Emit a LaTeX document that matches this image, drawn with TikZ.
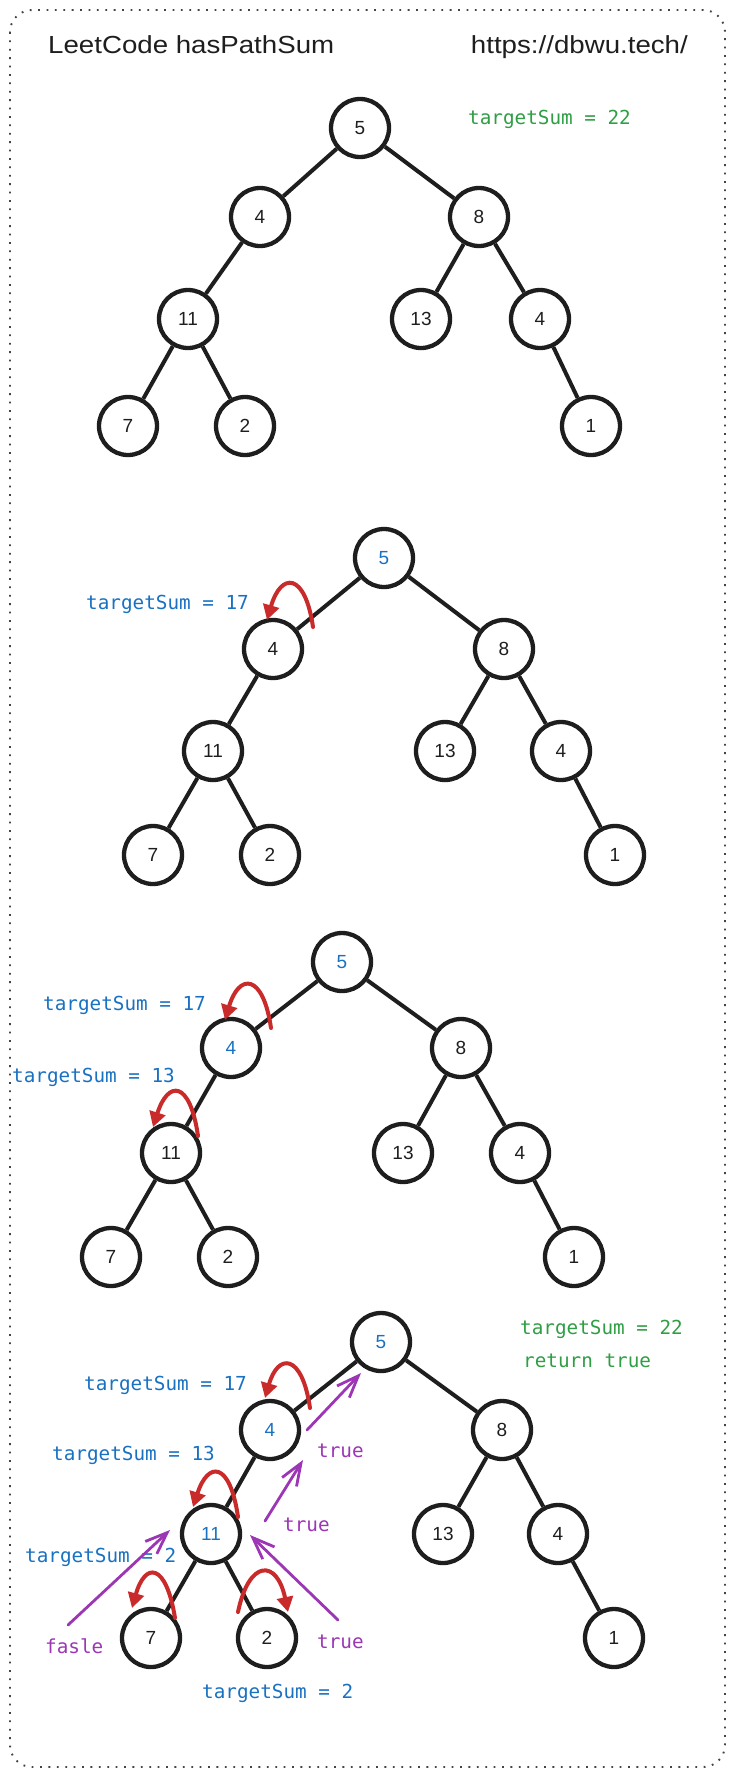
\documentclass[tikz,border=0pt]{standalone}
\usepackage{fontspec}
\usetikzlibrary{arrows.meta,calc}
\newfontfamily\titlefont[FakeStretch=1.12]{Liberation Sans}
\newfontfamily\codefont{DejaVu Sans Mono}
\newfontfamily\numfont{Liberation Sans}
\definecolor{ink}{HTML}{1E1E1E}
\definecolor{sgreen}{HTML}{2F9E44}
\definecolor{sblue}{HTML}{1971C2}
\definecolor{sred}{HTML}{C92A2A}
\definecolor{spurple}{HTML}{9C36B5}
\definecolor{bordergray}{HTML}{444444}
\tikzset{
  tn/.style={circle, draw=ink, line width=4.3pt, minimum size=58pt, inner sep=0pt,
    font=\numfont\fontsize{19}{19}\selectfont, text=ink},
  hl/.style={text=sblue},
  tedge/.style={draw=ink, line width=4pt},
  lbl/.style={anchor=west, inner sep=0pt, font=\codefont\fontsize{19.3}{20}\selectfont},
  redarr/.style={draw=sred, line width=4pt, line cap=round, -{Triangle[length=15pt,width=16pt]}},
  purarr/.style={draw=spurple, line width=2.8pt, line cap=round, -{Straight Barb[length=22pt,width=17pt,line width=2.8pt]}},
  frame/.style={draw=bordergray, line width=1.9pt, dash pattern=on 1.8pt off 6.6pt, rounded corners=22pt},
  ttl/.style={inner sep=0pt, font=\titlefont\fontsize{24.7}{25}\selectfont, text=ink}
}
\newcommand{\rloop}[5]{\draw[redarr] ($(#1)+(#2)$) .. controls ($(#1)+(#3)$) and ($(#1)+(#4)$) .. ($(#1)+(#5)$);}
\begin{document}
\begin{tikzpicture}[x=1pt,y=-1pt]
\useasboundingbox (0,0) rectangle (734,1775);
\draw[frame] (10,10) rectangle (725,1767);

\node[ttl, anchor=base west] (title) at (48,53) {LeetCode hasPathSum};
\node[ttl, anchor=base east] (url) at (688,53) {https://dbwu.tech/};

% ---------- Tree 1 ----------
\node[tn] (a5) at (360,128) {5};
\node[tn] (a4) at (260,217) {4};
\node[tn] (a8) at (479,217) {8};
\node[tn] (a11) at (188,319) {11};
\node[tn] (a13) at (421,319) {13};
\node[tn] (a4b) at (540,319) {4};
\node[tn] (a7) at (128,426) {7};
\node[tn] (a2) at (245,426) {2};
\node[tn] (a1) at (591,426) {1};
\draw[tedge] (a5)--(a4) (a5)--(a8) (a4)--(a11) (a8)--(a13) (a8)--(a4b) (a11)--(a7) (a11)--(a2) (a4b)--(a1);
\node[lbl, text=sgreen] (l1) at (468,119) {targetSum = 22};

% ---------- Tree 2 ----------
\node[tn, hl] (b5) at (384,558) {5};
\node[tn] (b4) at (273,649) {4};
\node[tn] (b8) at (504,649) {8};
\node[tn] (b11) at (213,751) {11};
\node[tn] (b13) at (445,751) {13};
\node[tn] (b4b) at (561,751) {4};
\node[tn] (b7) at (153,855) {7};
\node[tn] (b2) at (270,855) {2};
\node[tn] (b1) at (615,855) {1};
\draw[tedge] (b5)--(b4) (b5)--(b8) (b4)--(b11) (b8)--(b13) (b8)--(b4b) (b11)--(b7) (b11)--(b2) (b4b)--(b1);
\node[lbl, text=sblue] (l2) at (86,604) {targetSum = 17};
\rloop{b4}{40,-22}{32,-77}{8,-77}{-6,-29}

% ---------- Tree 3 ----------
\node[tn, hl] (c5) at (342,962) {5};
\node[tn, hl] (c4) at (231,1048) {4};
\node[tn] (c8) at (461,1048) {8};
\node[tn] (c11) at (171,1153) {11};
\node[tn] (c13) at (403,1153) {13};
\node[tn] (c4b) at (520,1153) {4};
\node[tn] (c7) at (111,1257) {7};
\node[tn] (c2) at (228,1257) {2};
\node[tn] (c1) at (574,1257) {1};
\draw[tedge] (c5)--(c4) (c5)--(c8) (c4)--(c11) (c8)--(c13) (c8)--(c4b) (c11)--(c7) (c11)--(c2) (c4b)--(c1);
\node[lbl, text=sblue] (l3a) at (43,1005) {targetSum = 17};
\node[lbl, text=sblue] (l3b) at (12,1077) {targetSum = 13};
\rloop{c4}{40,-20}{32,-75}{8,-75}{-6,-28}
\rloop{c11}{27,-17}{19,-73}{-3,-73}{-18,-26}

% ---------- Tree 4 ----------
\node[tn, hl] (d5) at (381,1342) {5};
\node[tn, hl] (d4) at (270,1430) {4};
\node[tn] (d8) at (502,1430) {8};
\node[tn, hl] (d11) at (211,1534) {11};
\node[tn] (d13) at (443,1534) {13};
\node[tn] (d4b) at (558,1534) {4};
\node[tn] (d7) at (151,1638) {7};
\node[tn] (d2) at (267,1638) {2};
\node[tn] (d1) at (614,1638) {1};
\draw[tedge] (d5)--(d4) (d5)--(d8) (d4)--(d11) (d8)--(d13) (d8)--(d4b) (d11)--(d7) (d11)--(d2) (d4b)--(d1);
\node[lbl, text=sgreen] (l4g1) at (520,1329) {targetSum = 22};
\node[lbl, text=sgreen] (l4g2) at (523,1361) {return true};
\node[lbl, text=sblue] (l4a) at (84,1385) {targetSum = 17};
\node[lbl, text=sblue] (l4b) at (52,1455) {targetSum = 13};
\node[lbl, text=sblue] (l4c) at (25,1557) {targetSum = 2};
\node[lbl, text=sblue] (l4d) at (202,1693) {targetSum = 2};
\node[lbl, text=spurple] (t1) at (317,1451) {true};
\node[lbl, text=spurple] (t2) at (283,1525) {true};
\node[lbl, text=spurple] (t3) at (317,1642) {true};
\node[lbl, text=spurple] (f1) at (45,1646) {fasle};
\rloop{d4}{40,-22}{32,-77}{8,-77}{-5,-32}
\rloop{d11}{27,-17}{19,-73}{-3,-73}{-18,-27}
\rloop{d7}{24,-20}{15,-76}{-6,-76}{-19,-30}
\rloop{d2}{-29,-26}{-18,-79}{10,-79}{21,-26}
\draw[purarr] ($(d4)+(37,0)$) -- ($(d5)+(-20,31)$);
\draw[purarr] ($(d11)+(54,-13)$) -- ($(d4)+(33,30)$);
\draw[purarr] ($(d11)+(-143,91)$) -- ($(d11)+(-41,-4)$);
\draw[purarr] ($(d11)+(127,86)$) -- ($(d11)+(39,1)$);
\end{tikzpicture}
\end{document}
